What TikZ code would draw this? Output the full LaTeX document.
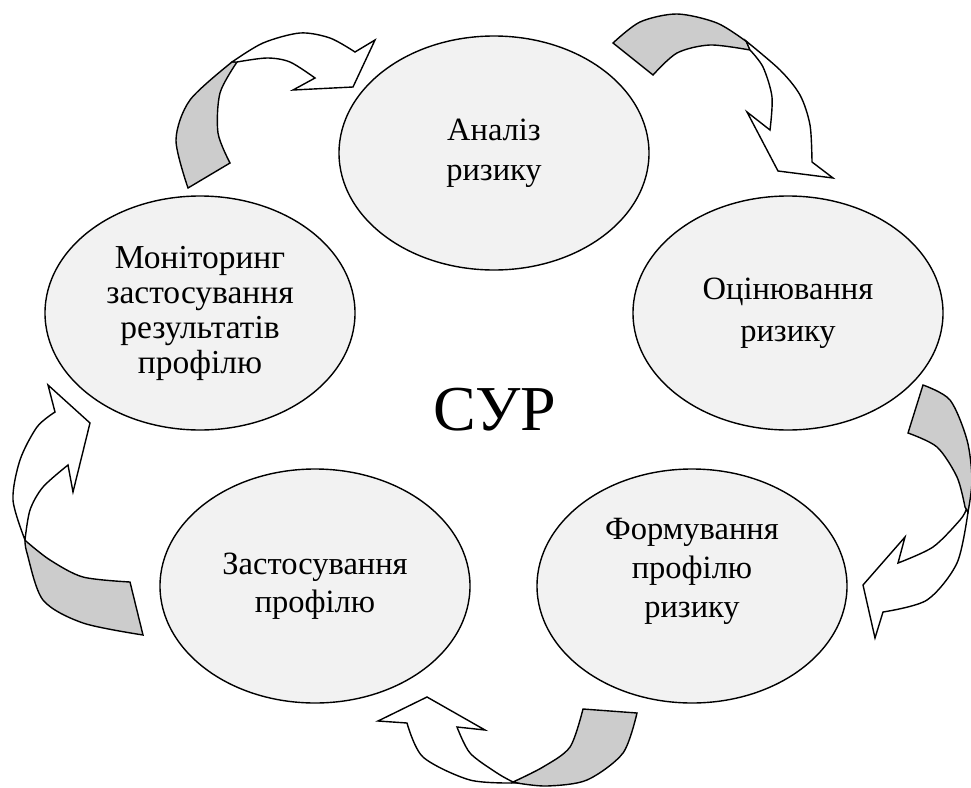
\documentclass[tikz,border=0pt]{standalone}
\usepackage{fontspec}
\setmainfont{Liberation Serif}
\usetikzlibrary{shapes.geometric}

\tikzset{
	stage/.style={draw, ellipse, line width=1.4pt, fill=black!5, inner sep=0pt,
		minimum width=310pt, minimum height=234pt, align=center,
		font=\fontsize{32.5}{40}\selectfont},
	stagetext/.style={inner sep=0pt, align=center, font=\fontsize{32.5}{39}\selectfont},
	backband/.style={draw, line width=1.4pt, fill=black!20},
	frontband/.style={draw, line width=1.4pt, fill=white}
}

\begin{document}
\begin{tikzpicture}[x=1pt,y=-1pt]
		\useasboundingbox (0,0) rectangle (971,787);

		\node (analiz)[stage] at (494,153) {Аналіз\\ризику};
		\node (ocin)[stage, font=\fontsize{32.5}{42}\selectfont] at (788,313) {Оцінювання\\ризику};
		\node (form)[stage] at (692,586) {};
		\node (formtext)[stagetext] at (692,571) {Формування\\профілю\\ризику};
		\node (zast)[stage, font=\fontsize{32.5}{38}\selectfont] at (315,586) {Застосування\\профілю};
		\node (monit)[stage, font=\fontsize{33.5}{35}\selectfont] at (200,313) {Моніторинг\\застосування\\результатів\\профілю};

		\node (sur) at (495,410) {\fontsize{64}{70}\selectfont СУР};

		% monit -> analiz
		\filldraw[backband] plot[smooth] coordinates {(188,188) (176,140) (190,100) (232,62)}
			-- plot[smooth] coordinates {(237,62) (220,93) (218,133) (230,163)} -- cycle;
		\filldraw[frontband] plot[smooth] coordinates {(232,62) (263,43) (300,33) (330,38) (355,52)}
			-- (375,40) -- (353,87) -- (293,90) -- (315,78)
			-- plot[smooth] coordinates {(315,78) (290,62) (267,58) (237,62)} -- cycle;

		% analiz -> ocin
		\filldraw[backband] plot[smooth] coordinates {(613,43) (640,22) (677,14) (717,23) (747,42)}
			-- plot[smooth] coordinates {(750,50) (710,45) (677,53) (653,75)} -- cycle;
		\filldraw[frontband] plot[smooth] coordinates {(746,41) (780,70) (800,95) (810,125) (812,162)}
			-- (833,178) -- (778,171) -- (747,112) -- (770,130)
			-- plot[smooth] coordinates {(770,130) (772,97) (763,67) (750,50)} -- cycle;

		% ocin -> form
		\filldraw[backband] plot[smooth] coordinates {(923,385) (950,400) (967,440) (972,480) (968,512)}
			-- plot[smooth] coordinates {(965,507) (957,477) (937,447) (908,433)} -- cycle;
		\filldraw[frontband] plot[smooth] coordinates {(968,512) (957,563) (927,600) (883,612)}
			-- (875,638) -- (863,585) -- (905,537) -- (898,563)
			-- plot[smooth] coordinates {(898,563) (933,547) (960,520) (966,510)} -- cycle;

		% form -> zast
		\filldraw[backband] plot[smooth] coordinates {(637,713) (623,753) (587,780) (547,786) (517,783)}
			-- plot[smooth] coordinates {(513,782) (543,767) (570,747) (583,709)} -- cycle;
		\filldraw[frontband] plot[smooth] coordinates {(517,783) (470,780) (423,757) (407,723)}
			-- (378,721) -- (427,697) -- (485,730) -- (457,727)
			-- plot[smooth] coordinates {(457,727) (470,753) (497,773) (513,782)} -- cycle;

		% zast -> monit
		\filldraw[backband] plot[smooth] coordinates {(143,635) (83,623) (43,600) (27,553) (25,540)}
			-- plot[smooth] coordinates {(27,542) (50,560) (83,577) (130,582)} -- cycle;
		\filldraw[frontband] plot[smooth] coordinates {(25,540) (13,500) (20,460) (37,427) (55,412)}
			-- (48,385) -- (90,423) -- (73,492) -- (68,465)
			-- plot[smooth] coordinates {(68,465) (43,487) (30,510) (25,540)} -- cycle;
	\end{tikzpicture}
\end{document}
